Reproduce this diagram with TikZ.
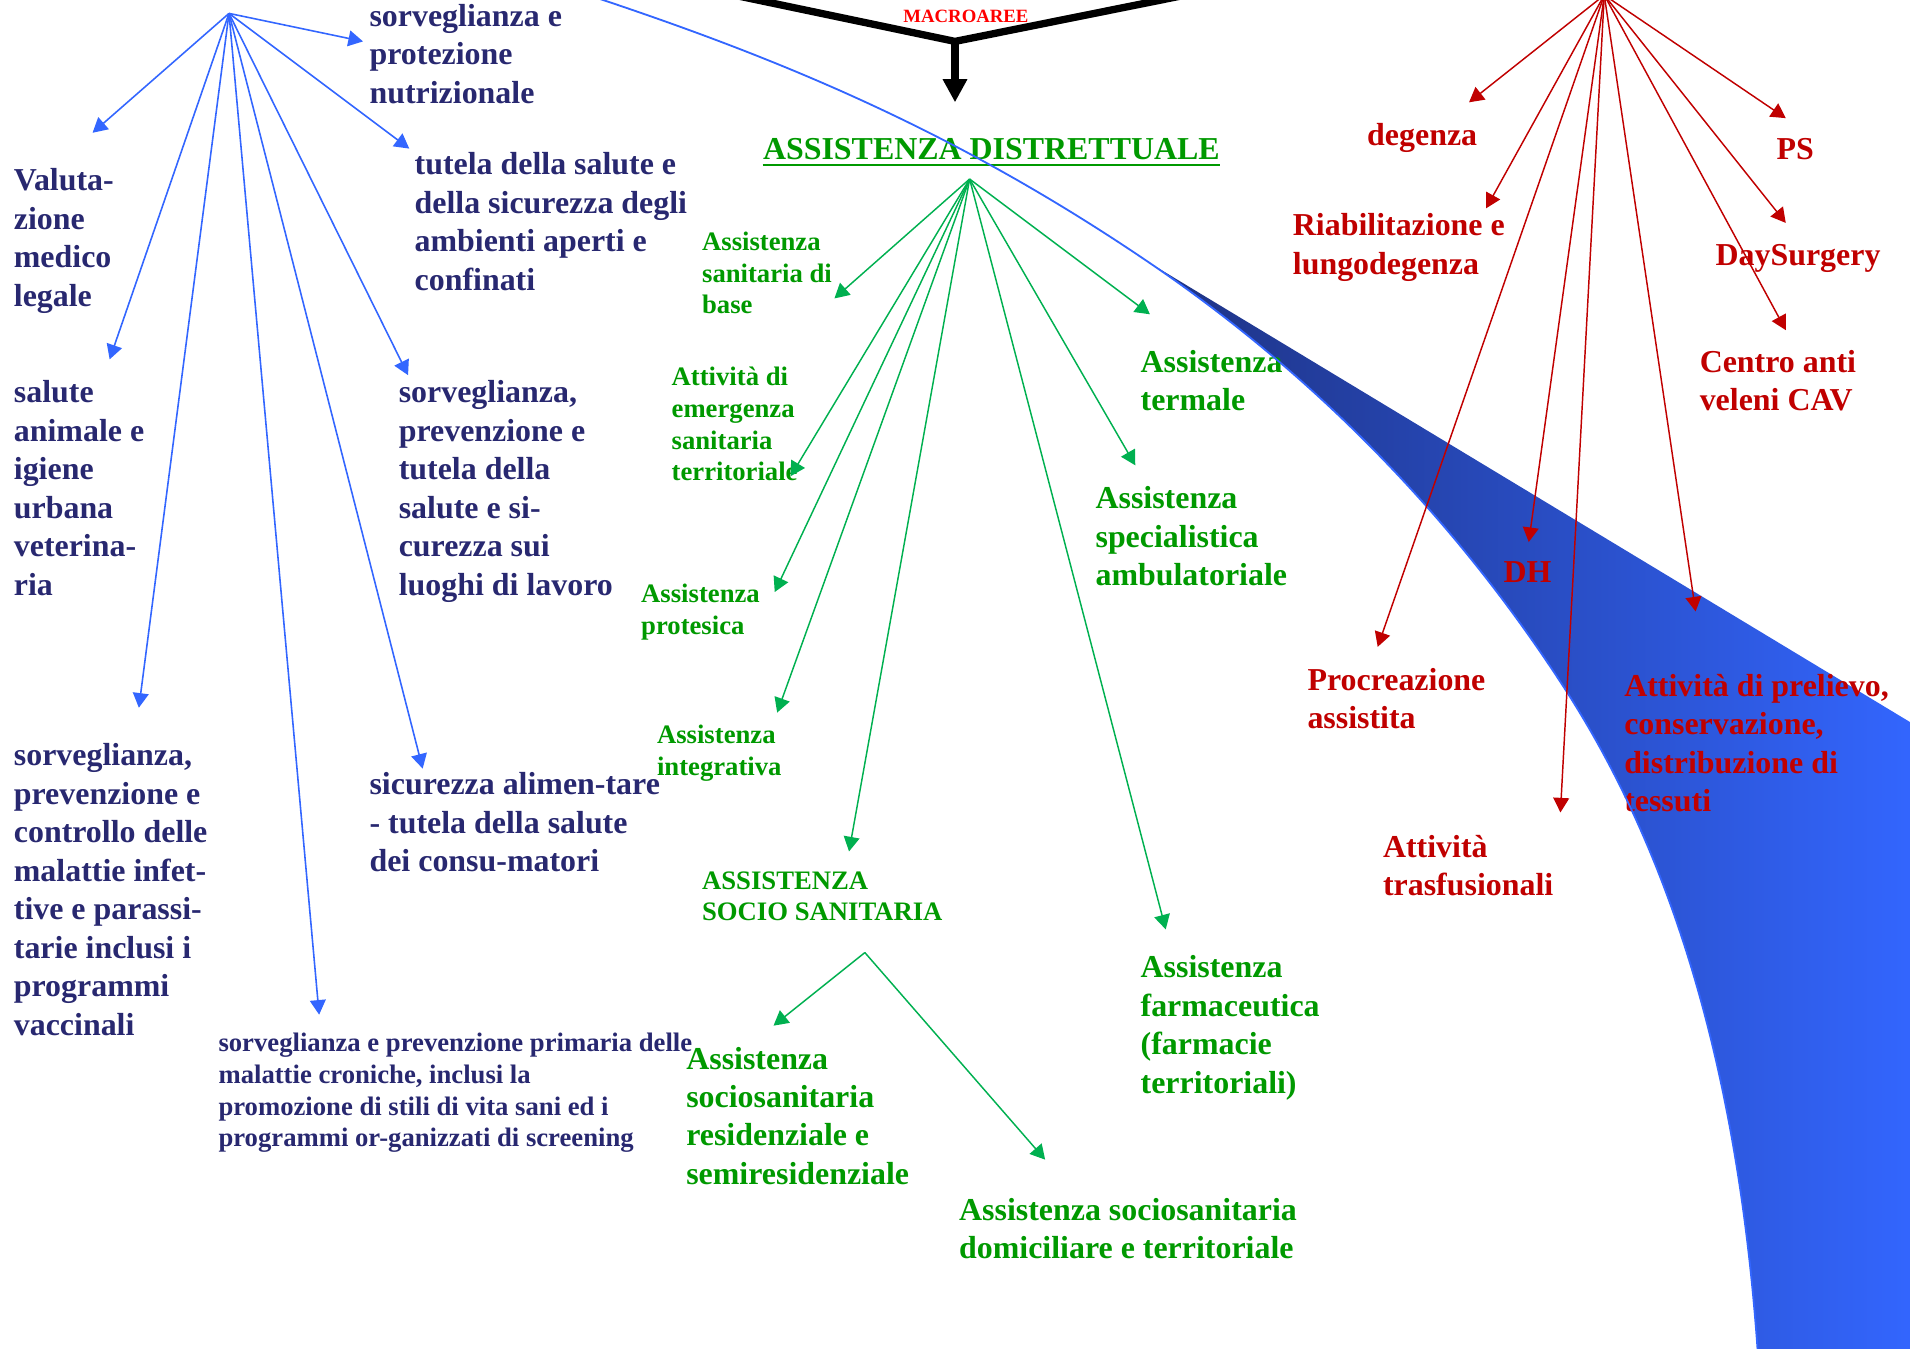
\documentclass[tikz,border=0pt]{standalone}
\usepackage{fontspec}
\setmainfont{Liberation Serif}
\usetikzlibrary{arrows.meta}
\definecolor{textblau}{RGB}{40,40,112}
\definecolor{pfeilblau}{RGB}{51,102,255}
\definecolor{textgruen}{RGB}{0,153,0}
\definecolor{pfeilgruen}{RGB}{0,176,80}
\definecolor{dunkelrot}{RGB}{192,0,0}
\definecolor{hellrot}{RGB}{255,0,0}
\definecolor{banddunkel}{RGB}{30,50,130}
\definecolor{bandhell}{RGB}{51,102,255}

\begin{document}
\begin{tikzpicture}[x=0.5pt, y=-0.5pt,
			>={Triangle[length=6pt,width=6.5pt]},   %Pfeilspitzen
			gross/.style={font=\fontsize{13.1}{15.8}\selectfont\bfseries, align=left, anchor=north west, inner sep=0pt},
			klein/.style={font=\fontsize{10.95}{13}\selectfont\bfseries, align=left, anchor=north west, inner sep=0pt},
			blaupfeil/.style={->, color=pfeilblau, line width=0.65pt},
			gruenpfeil/.style={->, color=pfeilgruen, line width=0.6pt},
			rotpfeil/.style={->, color=dunkelrot, line width=0.6pt}]
			%Bildbereich
			\useasboundingbox (0,0) rectangle (1568,1107);
			\clip (0,0) rectangle (1568,1107);
			%Band zeichnen
			\shade[left color=banddunkel, right color=bandhell] (944,216) .. controls (1064,297.6) and (1185,411) .. (1285,566)
				.. controls (1385,721) and (1429,910) .. (1443,1110) -- (1575,1110) -- (1575,597) -- cycle;
			% Macroaree
			\coordinate (scheitel) at (784,34);
			\draw[line width=3pt, line join=miter] (574,-10) -- (scheitel) -- (1003,-10);
			\node[anchor=base, inner sep=0pt, text=hellrot, font=\fontsize{7.7}{9}\selectfont\bfseries] (macro) at (793,18.3) {MACROAREE};
			% Prevenzione (blau)
			\node[gross, text=textblau] (nutriz) at (303,3) {sorveglianza e\\protezione\\nutrizionale};
			\node[gross, text=textblau] (medleg) at (11,138) {Valuta-\\zione\\medico\\legale};
			\node[gross, text=textblau] (ambienti) at (340,125) {tutela della salute e\\della sicurezza degli\\ambienti aperti e\\confinati};
			\node[gross, text=textblau] (veter) at (11,312) {salute\\animale e\\igiene\\urbana\\veterina-\\ria};
			\node[gross, text=textblau] (lavoro) at (327,312) {sorveglianza,\\prevenzione e\\tutela della\\salute e si-\\curezza sui\\luoghi di lavoro};
			\node[gross, text=textblau] (infett) at (11,610) {sorveglianza,\\prevenzione e\\controllo delle\\malattie infet-\\tive e parassi-\\tarie inclusi i\\programmi\\vaccinali};
			\node[gross, text=textblau] (alimenti) at (303,634) {sicurezza alimen-tare\\- tutela della salute\\dei consu-matori};
			\node[klein, text=textblau] (croniche) at (179,848) {sorveglianza e prevenzione primaria delle\\malattie croniche, inclusi la\\promozione di stili di vita sani ed i\\programmi or-ganizzati di screening};
			% Assistenza distrettuale (gruen)
			\node[gross, text=textgruen] (adist) at (626,113) {ASSISTENZA DISTRETTUALE};
			\draw[textgruen, line width=0.8pt] ([yshift=-2.2pt]adist.base west) -- ([yshift=-2.2pt]adist.base east);
			\node[klein, text=textgruen] (base) at (576,190) {Assistenza\\sanitaria di\\base};
			\node[klein, text=textgruen] (emerg) at (551,301) {Attività di\\emergenza\\sanitaria\\territoriale};
			\node[klein, text=textgruen] (protesica) at (526,479) {Assistenza\\protesica};
			\node[klein, text=textgruen] (integr) at (539,595) {Assistenza\\integrativa};
			\node[klein, text=textgruen] (socio) at (576,715) {ASSISTENZA\\SOCIO SANITARIA};
			\node[gross, text=textgruen] (termale) at (936,287) {Assistenza\\termale};
			\node[gross, text=textgruen] (special) at (899,399) {Assistenza\\specialistica\\ambulatoriale};
			\node[gross, text=textgruen] (farmac) at (936,784) {Assistenza\\farmaceutica\\(farmacie\\territoriali)};
			\node[gross, text=textgruen] (resid) at (563,859) {Assistenza\\sociosanitaria\\residenziale e\\semiresidenziale};
			\node[gross, text=textgruen] (domic) at (787,983) {Assistenza sociosanitaria\\domiciliare e territoriale};
			% Assistenza ospedaliera (rot)
			\node[gross, text=dunkelrot] (degenza) at (1122,101) {degenza};
			\node[gross, text=dunkelrot] (riabil) at (1061,175) {Riabilitazione e\\lungodegenza};
			\node[gross, text=dunkelrot] (ps) at (1458,113) {PS};
			\node[gross, text=dunkelrot] (daysurg) at (1408,200) {DaySurgery};
			\node[gross, text=dunkelrot] (cav) at (1395,287) {Centro anti\\veleni CAV};
			\node[gross, text=dunkelrot] (dh) at (1234,461) {DH};
			\node[gross, text=dunkelrot] (procr) at (1073,548) {Procreazione\\assistita};
			\node[gross, text=dunkelrot] (prelievo) at (1333,553) {Attività di prelievo,\\conservazione,\\distribuzione di\\tessuti};
			\node[gross, text=dunkelrot] (trasf) at (1135,685) {Attività\\trasfusionali};
			% Bandkante
			\draw[pfeilblau, line width=0.75pt] (480,-5) .. controls (640,47.8) and (784,107.2) .. (944,216)
				.. controls (1064,297.6) and (1185,411) .. (1285,566) .. controls (1385,721) and (1429,910) .. (1443,1110);
			% Wurzeln
			\coordinate (wurzelB) at (188,11);
			\coordinate (wurzelG) at (796,147);
			\coordinate (wurzelR) at (1317,-4);
			\coordinate (wurzelS) at ([shift={(134,67)}]socio.north west);
			% Pfeile zeichnen
			\draw[line width=3pt, -{Triangle[length=9.5pt,width=9.5pt]}] (scheitel) -- ([shift={(158,-29)}]adist.north west);
			\foreach \ziel/\dx/\dy in {nutriz/-5/31, medleg/65/-29, ambienti/-4/-3, veter/79/-17, lavoro/8/-4,
				infett/103/-29, alimenti/44/-3, croniche/83/-15}
				\draw[blaupfeil] (wurzelB) -- ([shift={(\dx,\dy)}]\ziel.north west);
			\foreach \ziel/\dx/\dy in {base/109/55, emerg/98/90, protesica/110/7, integr/99/-10, socio/121/-16,
				termale/8/-29, special/33/-17, farmac/21/-21}
				\draw[gruenpfeil] (wurzelG) -- ([shift={(\dx,\dy)}]\ziel.north west);
			\foreach \ziel/\dx/\dy in {resid/72/-17, domic/71/-31}
				\draw[gruenpfeil] (wurzelS) -- ([shift={(\dx,\dy)}]\ziel.north west);
			\foreach \ziel/\dx/\dy in {degenza/84/-17, riabil/159/-4, ps/8/-16, daysurg/58/-17, cav/71/-16,
				dh/21/-16, procr/58/-17, prelievo/59/-51, trasf/146/-18}
				\draw[rotpfeil] (wurzelR) -- ([shift={(\dx,\dy)}]\ziel.north west);
		\end{tikzpicture}
\end{document}
